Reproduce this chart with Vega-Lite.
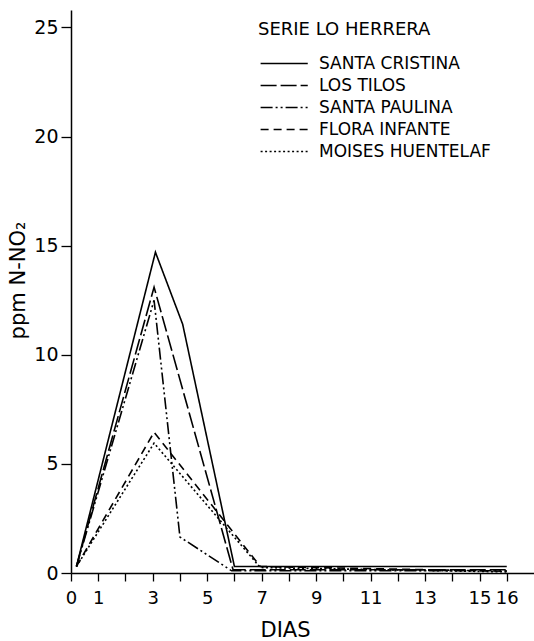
{
  "$schema": "https://vega.github.io/schema/vega-lite/v6.json",
  "autosize": "none",
  "width": 463,
  "height": 563,
  "padding": {"left": 71, "top": 10, "right": 0, "bottom": 68},
  "background": "white",
  "config": {
    "view": {"stroke": null},
    "font": "DejaVu Sans",
    "axis": {"domainColor": "black", "tickColor": "black", "labelColor": "black", "titleColor": "black", "domainWidth": 1.5, "tickWidth": 1.3, "grid": false, "titleFontWeight": "normal", "labelFont": "DejaVu Sans", "titleFont": "DejaVu Sans"}
  },
  "data": {
    "values": [
      {"serie": "SANTA CRISTINA", "dia": 0.2, "ppm": 0.3},
      {"serie": "SANTA CRISTINA", "dia": 3.1, "ppm": 14.7},
      {"serie": "SANTA CRISTINA", "dia": 4.1, "ppm": 11.4},
      {"serie": "SANTA CRISTINA", "dia": 6.0, "ppm": 0.3},
      {"serie": "SANTA CRISTINA", "dia": 16.0, "ppm": 0.3},
      {"serie": "LOS TILOS", "dia": 0.2, "ppm": 0.3},
      {"serie": "LOS TILOS", "dia": 3.05, "ppm": 13.1},
      {"serie": "LOS TILOS", "dia": 5.95, "ppm": 0.15},
      {"serie": "LOS TILOS", "dia": 16.0, "ppm": 0.15},
      {"serie": "SANTA PAULINA", "dia": 0.2, "ppm": 0.3},
      {"serie": "SANTA PAULINA", "dia": 3.05, "ppm": 12.5},
      {"serie": "SANTA PAULINA", "dia": 4.0, "ppm": 1.65},
      {"serie": "SANTA PAULINA", "dia": 5.9, "ppm": 0.1},
      {"serie": "SANTA PAULINA", "dia": 16.0, "ppm": 0.1},
      {"serie": "FLORA INFANTE", "dia": 0.2, "ppm": 0.3},
      {"serie": "FLORA INFANTE", "dia": 3.05, "ppm": 6.45},
      {"serie": "FLORA INFANTE", "dia": 6.95, "ppm": 0.3},
      {"serie": "FLORA INFANTE", "dia": 16.0, "ppm": 0.08},
      {"serie": "MOISES HUENTELAF", "dia": 0.2, "ppm": 0.3},
      {"serie": "MOISES HUENTELAF", "dia": 3.05, "ppm": 5.95},
      {"serie": "MOISES HUENTELAF", "dia": 6.95, "ppm": 0.25},
      {"serie": "MOISES HUENTELAF", "dia": 16.0, "ppm": 0.05}
    ]
  },
  "mark": {"type": "line", "color": "black", "strokeWidth": 1.6},
  "encoding": {
    "x": {
      "field": "dia", "type": "quantitative",
      "scale": {"domain": [0, 17], "nice": false, "zero": false},
      "axis": {
        "values": [0,1,2,3,4,5,6,7,8,9,10,11,12,13,14,15,16],
        "labelExpr": "indexof([2,4,6,8,10,12,14], datum.value) >= 0 ? '' : datum.label",
        "tickSize": 8, "labelPadding": 8, "labelFontSize": 18, "labelFlush": false, "labelOverlap": false,
        "title": "DIAS", "titleFontSize": 21, "titlePadding": 12, "titleX": 214
      }
    },
    "y": {
      "field": "ppm", "type": "quantitative",
      "scale": {"domain": [0, 25.8], "nice": false},
      "axis": {
        "values": [0, 5, 10, 15, 20, 25],
        "tickSize": 10, "labelPadding": 3, "labelFontSize": 19, "labelFlush": false,
        "title": "ppm N-NO₂", "titleFontSize": 21, "titlePadding": 5, "titleY": 270
      }
    },
    "strokeDash": {
      "field": "serie", "type": "nominal",
      "scale": {
        "domain": ["SANTA CRISTINA", "LOS TILOS", "SANTA PAULINA", "FLORA INFANTE", "MOISES HUENTELAF"],
        "range": [[1, 0], [16, 4], [12, 3, 2, 3, 2, 3], [8, 5], [2, 2.5]]
      },
      "legend": {
        "orient": "none", "legendX": 187, "legendY": 11,
        "title": "SERIE LO HERRERA", "titleFontSize": 18, "titleFontWeight": "normal", "titleColor": "black", "titlePadding": 16,
        "labelFontSize": 17, "labelColor": "black", "labelOffset": 44, "labelLimit": 400,
        "symbolType": "M-1,0H7", "symbolSize": 139, "symbolStrokeWidth": 1.6, "symbolStrokeColor": "black", "symbolFillColor": "transparent",
        "rowPadding": 4
      }
    }
  }
}
